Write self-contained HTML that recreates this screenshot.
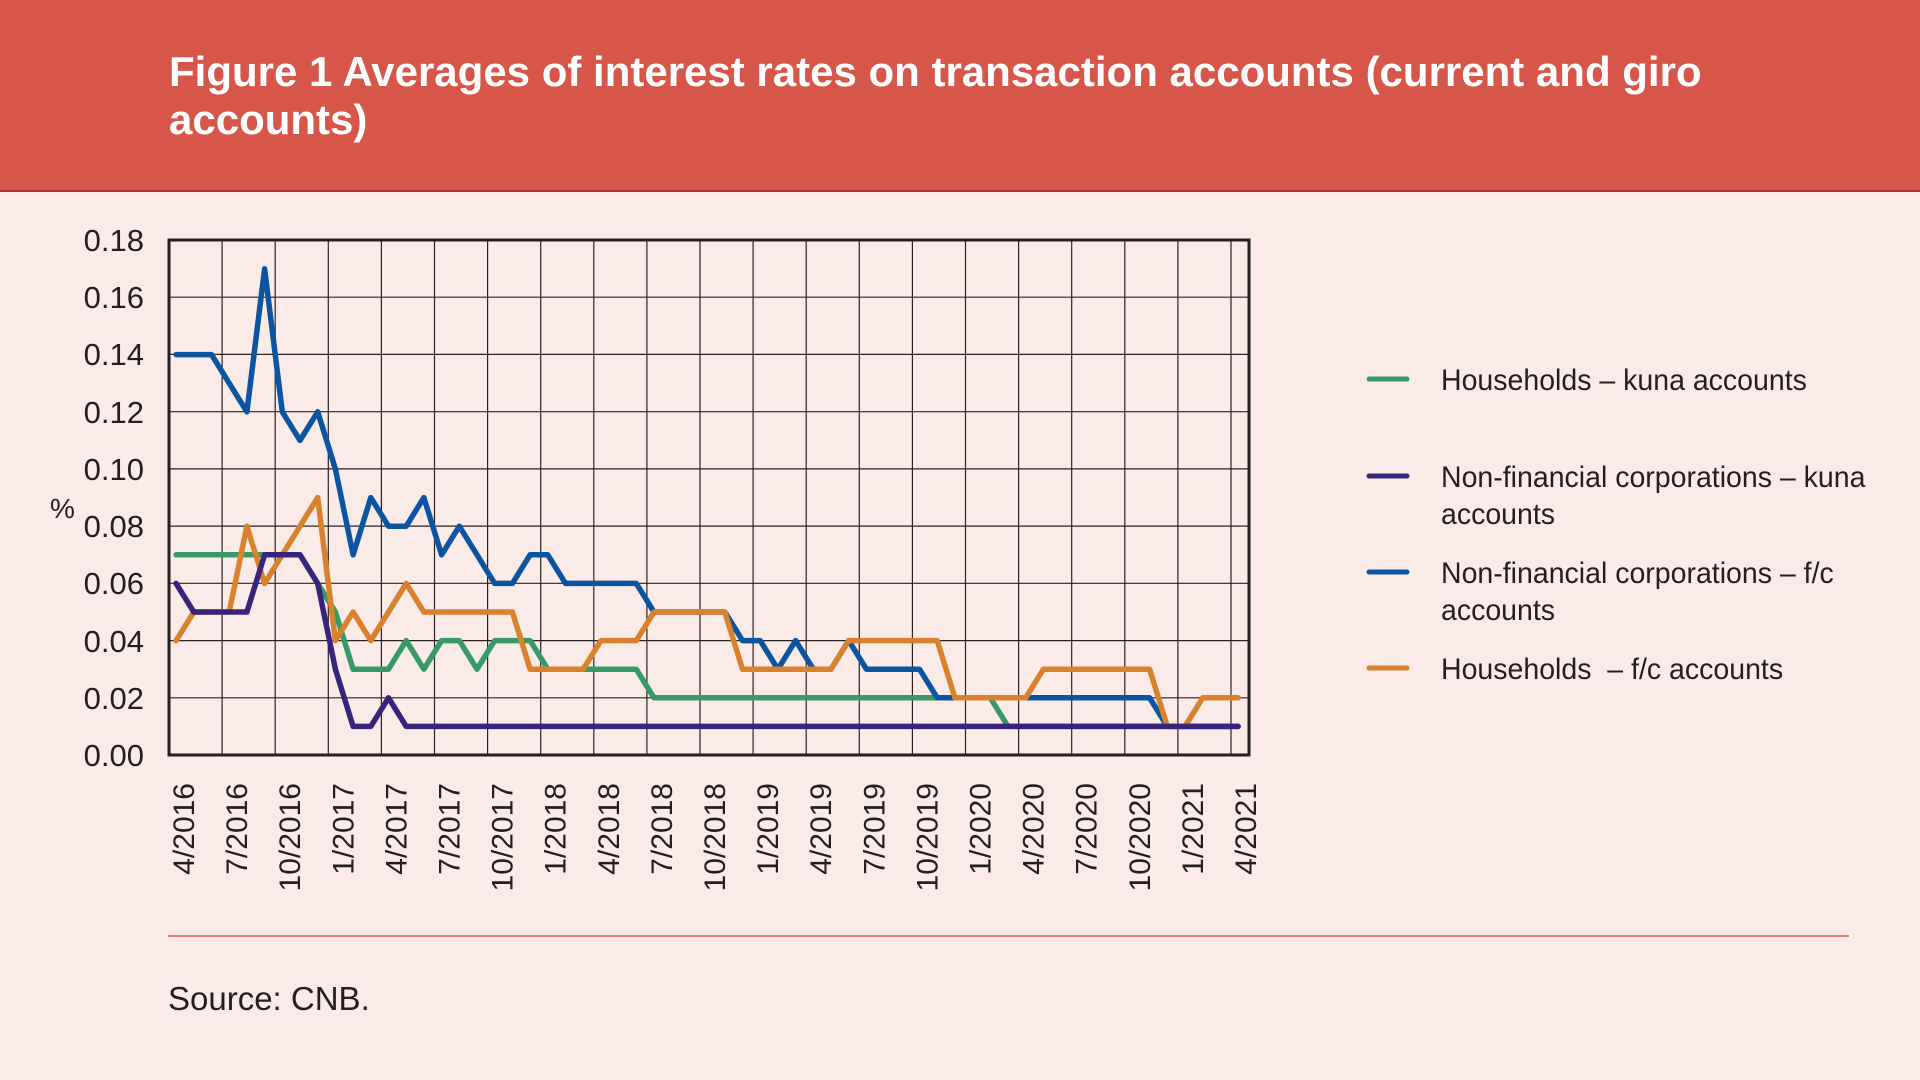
<!DOCTYPE html>
<html><head><meta charset="utf-8"><style>
html,body{margin:0;padding:0;}
body{width:1920px;height:1080px;background:#fbebe8;position:relative;overflow:hidden;font-family:"Liberation Sans",sans-serif;}
.hdr{position:absolute;left:0;top:0;width:1920px;height:190px;background:#d6564a;border-bottom:2px solid #a8343a;}
.t{position:absolute;left:169px;color:#fff;font-family:"Liberation Sans",sans-serif;font-weight:bold;font-size:42px;white-space:nowrap;}
</style></head><body>
<div class="hdr"></div>
<div class="t" style="top:48px">Figure 1 Averages of interest rates on transaction accounts (current and giro</div>
<div class="t" style="top:96px">accounts)</div>
<svg width="1920" height="1080" style="position:absolute;left:0;top:0" xmlns="http://www.w3.org/2000/svg">
<g stroke="#2a2222" stroke-width="1.2">
<line x1="169" y1="297.2" x2="1249" y2="297.2"/><line x1="169" y1="354.4" x2="1249" y2="354.4"/><line x1="169" y1="411.7" x2="1249" y2="411.7"/><line x1="169" y1="468.9" x2="1249" y2="468.9"/><line x1="169" y1="526.1" x2="1249" y2="526.1"/><line x1="169" y1="583.3" x2="1249" y2="583.3"/><line x1="169" y1="640.6" x2="1249" y2="640.6"/><line x1="169" y1="697.8" x2="1249" y2="697.8"/>
<line x1="222.1" y1="240" x2="222.1" y2="755"/><line x1="275.2" y1="240" x2="275.2" y2="755"/><line x1="328.3" y1="240" x2="328.3" y2="755"/><line x1="381.4" y1="240" x2="381.4" y2="755"/><line x1="434.5" y1="240" x2="434.5" y2="755"/><line x1="487.6" y1="240" x2="487.6" y2="755"/><line x1="540.7" y1="240" x2="540.7" y2="755"/><line x1="593.8" y1="240" x2="593.8" y2="755"/><line x1="646.9" y1="240" x2="646.9" y2="755"/><line x1="700" y1="240" x2="700" y2="755"/><line x1="753.1" y1="240" x2="753.1" y2="755"/><line x1="806.2" y1="240" x2="806.2" y2="755"/><line x1="859.3" y1="240" x2="859.3" y2="755"/><line x1="912.4" y1="240" x2="912.4" y2="755"/><line x1="965.5" y1="240" x2="965.5" y2="755"/><line x1="1018.6" y1="240" x2="1018.6" y2="755"/><line x1="1071.7" y1="240" x2="1071.7" y2="755"/><line x1="1124.8" y1="240" x2="1124.8" y2="755"/><line x1="1177.9" y1="240" x2="1177.9" y2="755"/><line x1="1231" y1="240" x2="1231" y2="755"/>
</g>
<rect x="169" y="240" width="1080" height="515" fill="none" stroke="#231f20" stroke-width="3"/>
<g fill="none" stroke-width="5.5" stroke-linejoin="round" stroke-linecap="round" transform="matrix(17.7,0,0,-2860,176.1,755)">
<polyline vector-effect="non-scaling-stroke" stroke="#379a66" points="0,.07 7,.07 8,.06 9,.05 10,.03 12,.03 13,.04 14,.03 15,.04 16,.04 17,.03 18,.04 20,.04 21,.03 26,.03 27,.02 46,.02 47,.01 60,.01"/>
<polyline vector-effect="non-scaling-stroke" stroke="#0b55a0" points="0,.14 2,.14 3,.13 4,.12 5,.17 6,.12 7,.11 8,.12 9,.10 10,.07 11,.09 12,.08 13,.08 14,.09 15,.07 16,.08 17,.07 18,.06 19,.06 20,.07 21,.07 22,.06 26,.06 27,.05 31,.05 32,.04 33,.04 34,.03 35,.04 36,.03 37,.03 38,.04 39,.03 42,.03 43,.02 55,.02 56,.01 60,.01"/>
<polyline vector-effect="non-scaling-stroke" stroke="#d8822e" points="0,.04 1,.05 3,.05 4,.08 5,.06 6,.07 7,.08 8,.09 9,.04 10,.05 11,.04 12,.05 13,.06 14,.05 19,.05 20,.03 23,.03 24,.04 26,.04 27,.05 31,.05 32,.03 37,.03 38,.04 43,.04 44,.02 48,.02 49,.03 55,.03 56,.01 57,.01 58,.02 60,.02"/>
<polyline vector-effect="non-scaling-stroke" stroke="#39247c" points="0,.06 1,.05 4,.05 5,.07 7,.07 8,.06 9,.03 10,.01 11,.01 12,.02 13,.01 60,.01"/>
</g>
<g font-family="Liberation Sans, sans-serif" font-size="31" fill="#231f20" text-anchor="end">
<text x="144" y="251">0.18</text><text x="144" y="308">0.16</text><text x="144" y="365">0.14</text><text x="144" y="423">0.12</text><text x="144" y="480">0.10</text><text x="144" y="537">0.08</text><text x="144" y="594">0.06</text><text x="144" y="652">0.04</text><text x="144" y="709">0.02</text><text x="144" y="766">0.00</text>
</g>
<text x="50" y="518" font-family="Liberation Sans, sans-serif" font-size="28" fill="#231f20">%</text>
<g font-family="Liberation Sans, sans-serif" font-size="30" fill="#231f20" text-anchor="end">
<text transform="translate(194,783) rotate(-90)">4/2016</text>
<text transform="translate(247.1,783) rotate(-90)">7/2016</text>
<text transform="translate(300.2,783) rotate(-90)">10/2016</text>
<text transform="translate(353.3,783) rotate(-90)">1/2017</text>
<text transform="translate(406.4,783) rotate(-90)">4/2017</text>
<text transform="translate(459.5,783) rotate(-90)">7/2017</text>
<text transform="translate(512.6,783) rotate(-90)">10/2017</text>
<text transform="translate(565.7,783) rotate(-90)">1/2018</text>
<text transform="translate(618.8,783) rotate(-90)">4/2018</text>
<text transform="translate(671.9,783) rotate(-90)">7/2018</text>
<text transform="translate(725,783) rotate(-90)">10/2018</text>
<text transform="translate(778.1,783) rotate(-90)">1/2019</text>
<text transform="translate(831.2,783) rotate(-90)">4/2019</text>
<text transform="translate(884.3,783) rotate(-90)">7/2019</text>
<text transform="translate(937.4,783) rotate(-90)">10/2019</text>
<text transform="translate(990.5,783) rotate(-90)">1/2020</text>
<text transform="translate(1043.6,783) rotate(-90)">4/2020</text>
<text transform="translate(1096.7,783) rotate(-90)">7/2020</text>
<text transform="translate(1149.8,783) rotate(-90)">10/2020</text>
<text transform="translate(1202.9,783) rotate(-90)">1/2021</text>
<text transform="translate(1256,783) rotate(-90)">4/2021</text>
</g>
<g stroke-width="5" stroke-linecap="round">
<line x1="1369" y1="379" x2="1407" y2="379" stroke="#379a66"/>
<line x1="1369" y1="476" x2="1407" y2="476" stroke="#39247c"/>
<line x1="1369" y1="572" x2="1407" y2="572" stroke="#0b55a0"/>
<line x1="1369" y1="668" x2="1407" y2="668" stroke="#d8822e"/>
</g>
<g font-family="Liberation Sans, sans-serif" font-size="30" fill="#231f20" transform="translate(1441,0) scale(0.95,1)">
<text x="0" y="390">Households – kuna accounts</text>
<text x="0" y="487">Non-financial corporations – kuna</text>
<text x="0" y="524">accounts</text>
<text x="0" y="583">Non-financial corporations – f/c</text>
<text x="0" y="620">accounts</text>
<text x="0" y="679" xml:space="preserve">Households  – f/c accounts</text>
</g>
<line x1="168" y1="936" x2="1849" y2="936" stroke="#e0574a" stroke-width="1.5"/>
<text x="168" y="1010" font-family="Liberation Sans, sans-serif" font-size="33" fill="#231f20">Source: CNB.</text>
</svg>
</body></html>
